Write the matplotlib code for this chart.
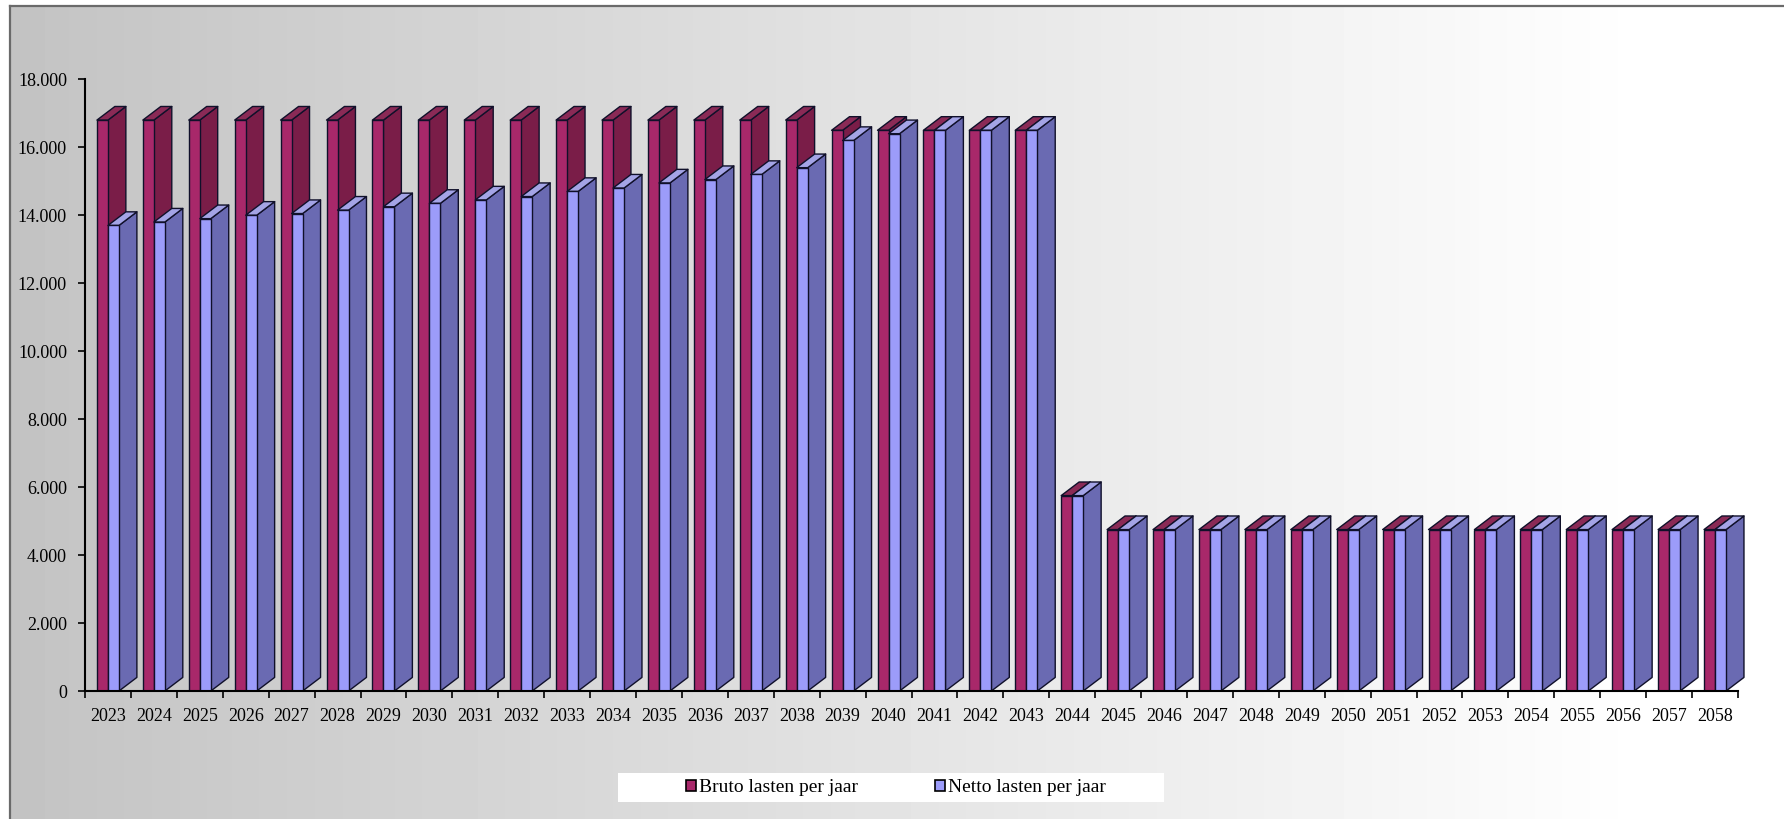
import numpy as np
import matplotlib
matplotlib.use('Agg')
import matplotlib.pyplot as plt
from matplotlib.collections import PolyCollection
from matplotlib.patches import Patch
from matplotlib.ticker import FuncFormatter

years = list(range(2023, 2059))

bruto = [16800] * 16 + [16500] * 5 + [5750] + [4750] * 14
netto = [13700, 13800, 13900, 14000, 14050, 14150, 14250, 14350,
         14450, 14550, 14700, 14800, 14950, 15050, 15200, 15400,
         16200, 16400, 16500, 16500, 16500,
         5750] + [4750] * 14

bruto_cols = dict(front='#a8286a', side='#7a1d48', top='#8a2a56')
netto_cols = dict(front='#9c9cfa', side='#6a6ab2', top='#a4a4e6')
edge = '#10102a'

W = 0.24      # width of each front face (category units)
DX = 0.39     # depth offset, horizontal
DY = 400      # depth offset, vertical (value units)

plt.rcParams['font.family'] = ['Liberation Serif', 'DejaVu Serif']

fig = plt.figure(figsize=(17.84, 8.19), dpi=100)
fig.patch.set_facecolor('white')

# grey-to-white background panel
bg = fig.add_axes([10 / 1784, 0, 1 - 10 / 1784, 1 - 6 / 819], zorder=-5)
grad = np.clip(np.linspace(0.765, 1.02, 512), 0, 1)
bg.imshow(np.tile(grad, (2, 1)), cmap='gray', vmin=0, vmax=1,
          aspect='auto', extent=[0, 1, 0, 1])
bg.axis('off')

# panel border (top and left)
fig.add_artist(plt.Line2D([10 / 1784, 1], [1 - 6 / 819, 1 - 6 / 819],
                          transform=fig.transFigure, color='#6a6a6a', lw=1.6))
fig.add_artist(plt.Line2D([10 / 1784, 10 / 1784], [0, 1 - 6 / 819],
                          transform=fig.transFigure, color='#6a6a6a', lw=1.6))

ax = fig.add_axes([85 / 1784, 128 / 819, (1738 - 85) / 1784, (691 - 79.3) / 819])
ax.set_facecolor('none')

x = np.arange(len(years))


def box_faces(x0, val):
    # side and top faces of a bar whose front face starts at x0
    side = [(x0 + W, 0), (x0 + W + DX, DY), (x0 + W + DX, val + DY), (x0 + W, val)]
    top = [(x0, val), (x0 + DX, val + DY), (x0 + W + DX, val + DY), (x0 + W, val)]
    return side, top


z = 2
for i, xi in enumerate(x):
    for vals, cols, x0 in ((bruto, bruto_cols, xi - W), (netto, netto_cols, xi)):
        v = vals[i]
        side, top = box_faces(x0, v)
        pc = PolyCollection([side, top], facecolors=[cols['side'], cols['top']],
                            edgecolors=edge, linewidths=1.0, zorder=z, clip_on=False)
        ax.add_collection(pc)
        ax.bar(x0, v, width=W, align='edge', color=cols['front'],
               edgecolor=edge, linewidth=1.0, zorder=z + 0.5)
        z += 1

ax.set_xlim(-0.5, len(years) - 0.5)
ax.set_ylim(0, 18000)
ax.set_yticks(np.arange(0, 18001, 2000))
ax.yaxis.set_major_formatter(FuncFormatter(lambda v, p: f'{v:,.0f}'.replace(',', '.')))

ax.set_xticks(x)
ax.set_xticklabels([str(y) for y in years])
ax.set_xticks(np.arange(-0.5, len(years)), minor=True)
ax.tick_params(axis='x', which='major', length=0, pad=12, labelsize=13)
ax.tick_params(axis='x', which='minor', length=5, width=1.2, direction='out')
ax.tick_params(axis='y', length=5, width=1.2, direction='out', pad=8, labelsize=13)

for s in ('top', 'right'):
    ax.spines[s].set_visible(False)
for s in ('left', 'bottom'):
    ax.spines[s].set_linewidth(1.5)
    ax.spines[s].set_color('black')
    ax.spines[s].set_zorder(200)

# legend with a white strip behind it
fig.add_artist(plt.Rectangle((618 / 1784, 17 / 819), (1164 - 618) / 1784, 29 / 819,
                             transform=fig.transFigure, facecolor='white',
                             edgecolor='none', zorder=1))
handles = [Patch(facecolor=bruto_cols['front'], edgecolor='black', linewidth=1.2),
           Patch(facecolor=netto_cols['front'], edgecolor='black', linewidth=1.2)]
leg = fig.legend(handles, ['Bruto lasten per jaar', 'Netto lasten per jaar'],
                 loc='center', bbox_to_anchor=(896 / 1784, 31.5 / 819), ncol=2,
                 frameon=False, fontsize=14, handlelength=0.5, handleheight=0.5,
                 handletextpad=0.15, columnspacing=4.0)
leg.set_zorder(5)

fig.savefig('out.png', dpi=100)
